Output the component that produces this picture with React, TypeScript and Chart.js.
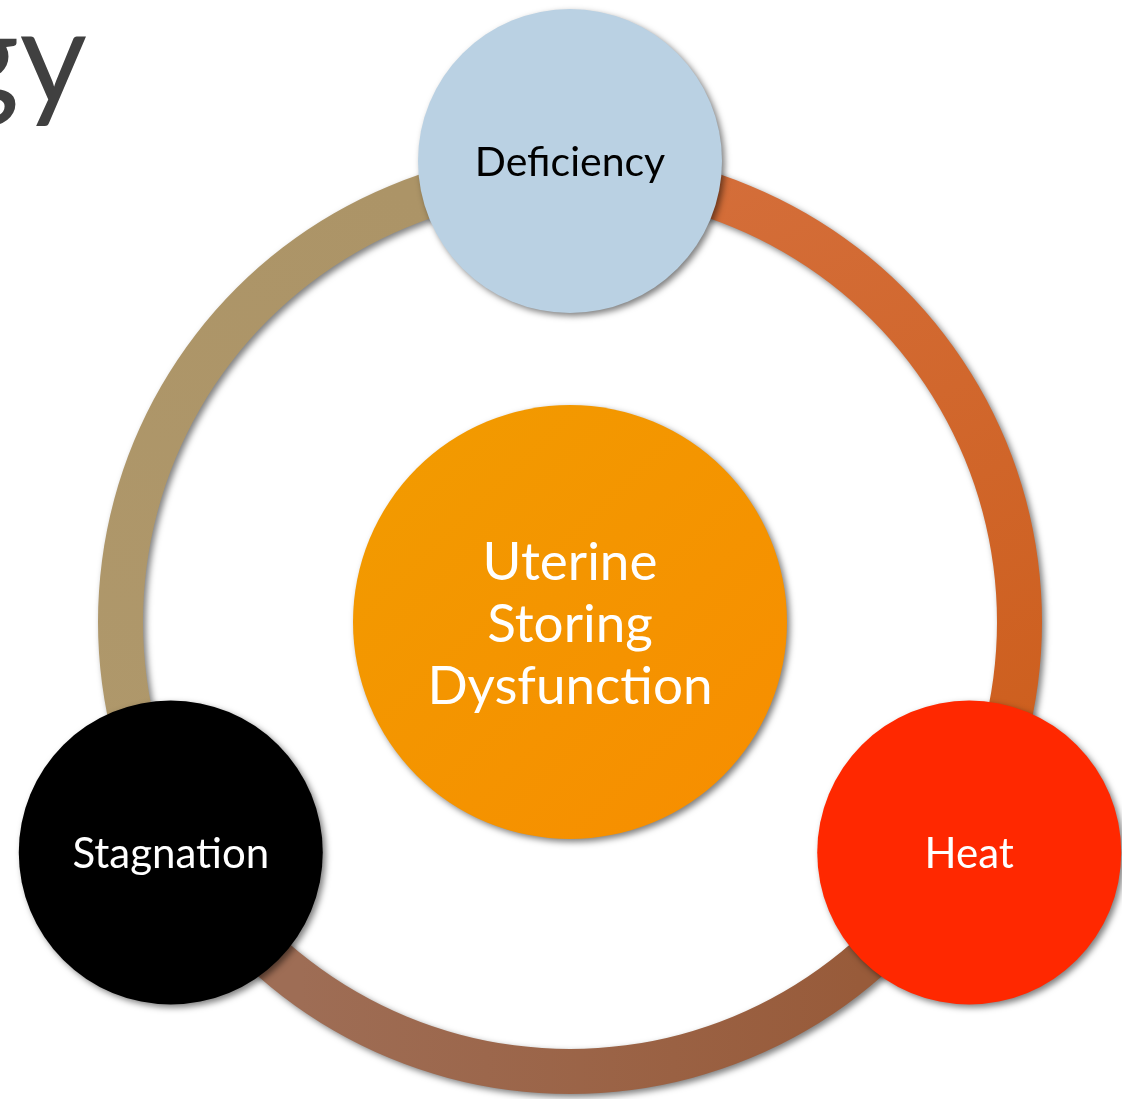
import React, { useEffect, useRef } from 'react';
import { Chart, registerables } from 'chart.js';

Chart.register(...registerables);

// ---- data ----
const ringSegments = ['Deficiency → Heat', 'Heat → Stagnation', 'Stagnation → Deficiency'];
const ringValues = [1, 1, 1];
const nodeLabels = ['Deficiency', 'Heat', 'Stagnation', 'Uterine\nStoring\nDysfunction'];
const nodeAngles = [90, -30, 210, 0]; // degrees around the ring
const nodeOnRing = [1, 1, 1, 0]; // 1 = sits on the ring, 0 = centre
const titleFragment = 'gy';

// ---- layout / style constants ----
const W = 1122;
const H = 1099;
const PAD = { left: 98, top: 150, right: 80, bottom: 5 }; // square 944px area, centre (570,622)
const RING_INNER = 427;
const NODE_DIST = 461 / 472;
const NODE_R = [152, 152, 152, 217];
const NODE_FILL = ['#BAD1E3', '#FF2800', '#000000', 'center'];
const NODE_TEXT = ['#000000', '#FFFFFF', '#FFFFFF', '#FFFFFF'];
const NODE_FONT = [41, 42, 42, 53];
const LINE_H = 62;
const FONT = 'Lato, "Open Sans", sans-serif';

const shadowPlugin = (drawLabels: boolean) => ({
  id: 'shadowLabels',
  beforeDatasetsDraw(chart: any) {
    const ctx = chart.ctx;
    ctx.save();
    ctx.shadowColor = 'rgba(0,0,0,0.5)';
    ctx.shadowBlur = 6;
    ctx.shadowOffsetX = 3;
    ctx.shadowOffsetY = 3;
  },
  afterDatasetsDraw(chart: any) {
    const ctx = chart.ctx;
    ctx.restore();
    if (!drawLabels) return;
    const meta = chart.getDatasetMeta(0);
    meta.data.forEach((el: any, i: number) => {
      const size = NODE_FONT[i];
      const lines = nodeLabels[i].split('\n');
      ctx.save();
      ctx.font = `${size}px ${FONT}`;
      ctx.fillStyle = NODE_TEXT[i];
      ctx.textAlign = 'center';
      ctx.textBaseline = 'alphabetic';
      lines.forEach((ln: string, j: number) => {
        const y = el.y + (j - (lines.length - 1) / 2) * LINE_H + size * 0.37;
        ctx.fillText(ln, el.x, y);
      });
      ctx.restore();
    });
  },
});

function ringColor(c: any) {
  const chart = c.chart;
  const ctx = chart.ctx;
  const i = c.dataIndex;
  if (!chart.chartArea) return ['#D0662A', '#9B6446', '#AD956A'][i];
  let g;
  if (i === 0) {
    g = ctx.createLinearGradient(700, 170, 1010, 800);
    g.addColorStop(0, '#D46E3A');
    g.addColorStop(1, '#CD5E1C');
  } else if (i === 1) {
    g = ctx.createLinearGradient(300, 1000, 860, 1000);
    g.addColorStop(0, '#9E6D55');
    g.addColorStop(1, '#985B3A');
  } else {
    g = ctx.createLinearGradient(150, 800, 420, 200);
    g.addColorStop(0, '#AF986B');
    g.addColorStop(1, '#AC9467');
  }
  return g;
}

function nodeColor(c: any) {
  const i = c.dataIndex;
  const f = NODE_FILL[i];
  if (f !== 'center') return f;
  const chart = c.chart;
  if (!chart.chartArea) return '#F39800';
  const g = chart.ctx.createLinearGradient(400, 450, 760, 820);
  g.addColorStop(0, '#F29A00');
  g.addColorStop(1, '#F78E00');
  return g;
}

export default function App() {
  const ringRef = useRef<HTMLCanvasElement>(null);
  const nodeRef = useRef<HTMLCanvasElement>(null);

  useEffect(() => {
    const ring = new Chart(ringRef.current as HTMLCanvasElement, {
      type: 'doughnut',
      data: {
        labels: ringSegments,
        datasets: [
          {
            data: ringValues,
            backgroundColor: ringColor as any,
            borderWidth: 0,
            hoverOffset: 0,
          },
        ],
      },
      options: {
        responsive: false,
        animation: false,
        cutout: RING_INNER,
        rotation: 0,
        layout: { padding: PAD, autoPadding: false },
        events: [],
        plugins: { legend: { display: false }, tooltip: { enabled: false } },
      },
      plugins: [shadowPlugin(false)],
    });

    const points = nodeAngles.map((a, i) => {
      const rad = (a * Math.PI) / 180;
      return { x: Math.cos(rad) * NODE_DIST * nodeOnRing[i], y: Math.sin(rad) * NODE_DIST * nodeOnRing[i] };
    });

    const nodes = new Chart(nodeRef.current as HTMLCanvasElement, {
      type: 'bubble',
      data: {
        labels: nodeLabels,
        datasets: [
          {
            data: points as any,
            backgroundColor: nodeColor as any,
            borderWidth: 0,
            radius: ((c: any) => NODE_R[c.dataIndex]) as any,
            hoverRadius: 0,
            clip: false as any,
          },
        ],
      },
      options: {
        responsive: false,
        animation: false,
        layout: { padding: PAD, autoPadding: false },
        events: [],
        scales: {
          x: { type: 'linear', min: -1, max: 1, display: false },
          y: { type: 'linear', min: -1, max: 1, display: false },
        },
        plugins: { legend: { display: false }, tooltip: { enabled: false } },
      },
      plugins: [shadowPlugin(true)],
    });

    return () => {
      ring.destroy();
      nodes.destroy();
    };
  }, []);

  const layer: React.CSSProperties = { position: 'absolute', left: 0, top: 0 };

  return (
    <div style={{ position: 'absolute', left: 0, top: 0, width: W, height: H, background: '#FFFFFF', overflow: 'hidden' }}>
      <div
        style={{
          position: 'absolute',
          left: -200,
          top: -13,
          width: 287,
          textAlign: 'right',
          fontFamily: FONT,
          fontSize: 131,
          lineHeight: 1,
          color: '#404040',
          whiteSpace: 'nowrap',
        }}
      >
        {titleFragment}
      </div>
      <canvas ref={ringRef} width={W} height={H} style={layer} />
      <canvas ref={nodeRef} width={W} height={H} style={layer} />
    </div>
  );
}
